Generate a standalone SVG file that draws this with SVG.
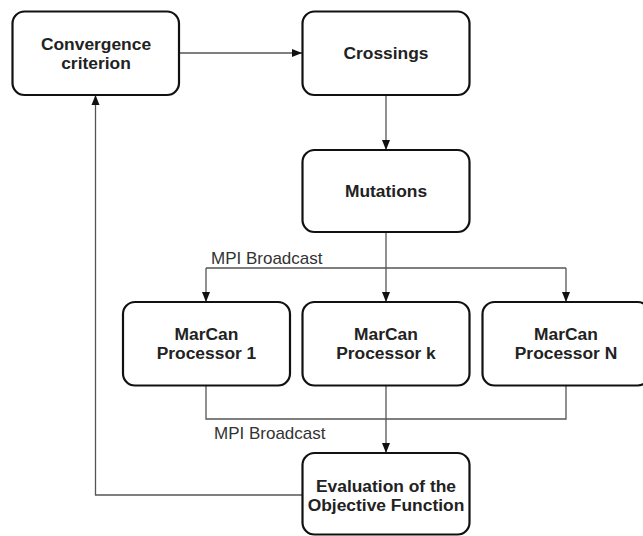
<svg xmlns="http://www.w3.org/2000/svg" width="643" height="536" viewBox="0 0 643 536">
<style>
.box{fill:#fff;stroke:#111;stroke-width:2.2}
.t{font-family:"Liberation Sans",Arial,sans-serif;font-weight:bold;font-size:17.4px;fill:#222;text-anchor:middle}
.lbl{font-family:"Liberation Sans",Arial,sans-serif;font-size:17px;fill:#333}
.c{fill:none;stroke:#555;stroke-width:1.3}
</style>
<defs>
<marker id="ah" viewBox="0 0 10 10" refX="10" refY="5" markerWidth="10" markerHeight="10" markerUnits="userSpaceOnUse" orient="auto">
<path d="M0,1 L10,5 L0,9 Z" fill="#111"/>
</marker>
</defs>
<rect width="643" height="536" fill="#fff"/>
<g id="connectors">
<path class="c" d="M179,53 H302" marker-end="url(#ah)"/>
<path class="c" d="M386,95 V150" marker-end="url(#ah)"/>
<path class="c" d="M386,232 V302" marker-end="url(#ah)"/>
<path class="c" d="M206,268 H566"/>
<path class="c" d="M206,268 V302" marker-end="url(#ah)"/>
<path class="c" d="M566,268 V302" marker-end="url(#ah)"/>
<path class="c" d="M206,386 V419 H566 V386"/>
<path class="c" d="M386,386 V453" marker-end="url(#ah)"/>
<path class="c" d="M302,495 H95.5 V95" marker-end="url(#ah)"/>
<text class="lbl" x="211" y="264">MPI Broadcast</text>
<text class="lbl" x="214" y="439">MPI Broadcast</text>
</g>
<g id="convergence">
<rect class="box" x="12.5" y="11.5" width="166.5" height="83.5" rx="12"/>
<text class="t" x="96" y="50">Convergence</text>
<text class="t" x="96" y="69">criterion</text>
</g>
<g id="crossings">
<rect class="box" x="302.5" y="11.5" width="167" height="83.5" rx="12"/>
<text class="t" x="386" y="59">Crossings</text>
</g>
<g id="mutations">
<rect class="box" x="302.5" y="150" width="167" height="82" rx="12"/>
<text class="t" x="386" y="197">Mutations</text>
</g>
<g id="proc1">
<rect class="box" x="123" y="302" width="167" height="83.5" rx="12"/>
<text class="t" x="206.5" y="340">MarCan</text>
<text class="t" x="206.5" y="359">Processor 1</text>
</g>
<g id="prock">
<rect class="box" x="302.5" y="302" width="167" height="83.5" rx="12"/>
<text class="t" x="386" y="340">MarCan</text>
<text class="t" x="386" y="359">Processor k</text>
</g>
<g id="procN">
<rect class="box" x="482.5" y="302" width="167" height="83.5" rx="12"/>
<text class="t" x="566" y="340">MarCan</text>
<text class="t" x="566" y="359">Processor N</text>
</g>
<g id="evaluation">
<rect class="box" x="302.5" y="453" width="167" height="81.5" rx="12"/>
<text class="t" x="386" y="492">Evaluation of the</text>
<text class="t" x="386" y="511">Objective Function</text>
</g>
</svg>
